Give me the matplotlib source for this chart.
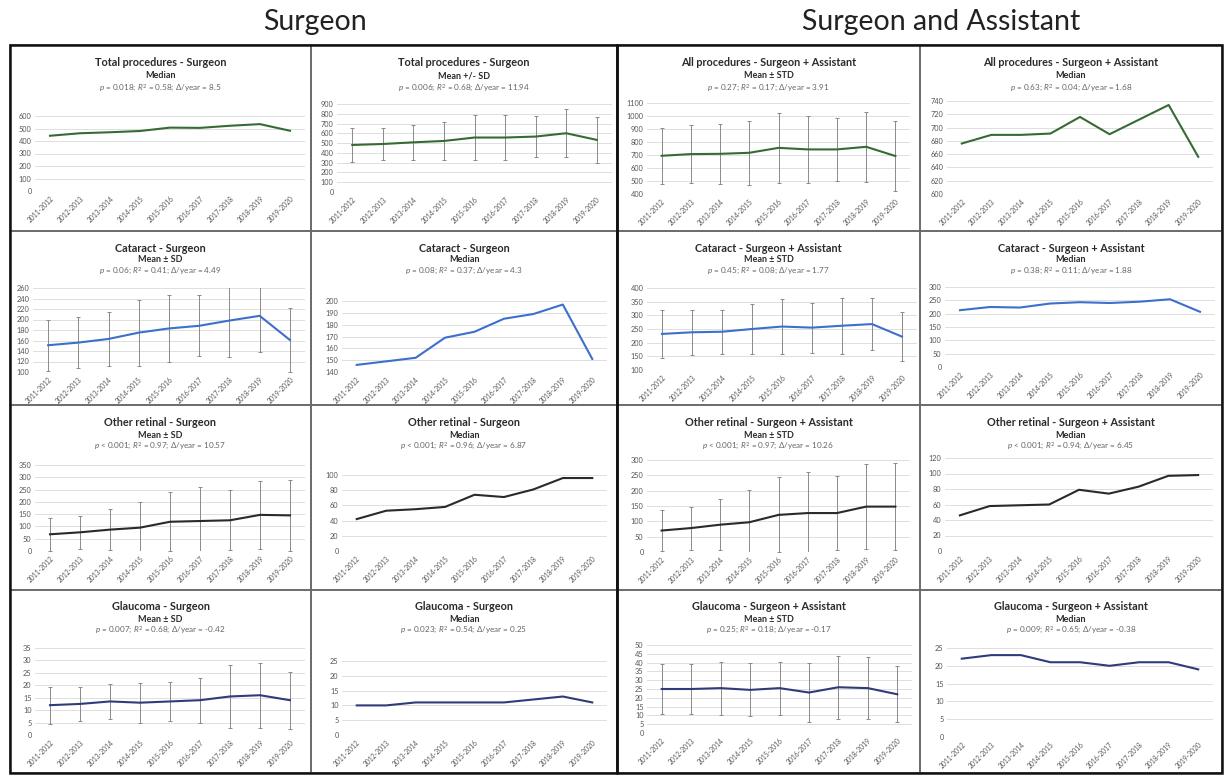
import numpy as np
import matplotlib
matplotlib.use("Agg")
import matplotlib.pyplot as plt
from matplotlib.patches import Rectangle

W, H = 1225, 775

seasons = ["2011-2012", "2012-2013", "2013-2014", "2014-2015", "2015-2016",
           "2016-2017", "2017-2018", "2018-2019", "2019-2020"]

# Total / all procedures
total_surg_median = [442, 462, 470, 480, 507, 505, 522, 535, 482]
total_surg_mean = [481, 491, 508, 522, 557, 557, 567, 601, 533]
total_surg_sd = [172, 163, 177, 197, 228, 228, 206, 247, 233]
all_sa_mean = [694, 707, 709, 717, 755, 743, 743, 763, 692]
all_sa_sd = [217, 222, 233, 246, 269, 255, 245, 269, 271]
all_sa_median = [676, 689, 689, 691, 716, 690, 712, 734, 656]

# Cataract
cat_surg_mean = [151, 156, 163, 175, 183, 188, 198, 207, 161]
cat_surg_sd = [49, 49, 51, 63, 64, 58, 69, 69, 61]
cat_surg_median = [146, 149, 152, 169, 174, 185, 189, 197, 151]
cat_sa_mean = [232, 238, 240, 250, 259, 255, 262, 268, 222]
cat_sa_sd = [88, 82, 80, 92, 99, 91, 102, 95, 90]
cat_sa_median = [213, 225, 223, 238, 243, 240, 245, 254, 207]

# Other retinal
ret_surg_mean = [68, 76, 87, 95, 119, 122, 125, 147, 145]
ret_surg_sd = [68, 66, 83, 103, 120, 140, 122, 138, 144]
ret_surg_median = [42, 53, 55, 58, 74, 71, 81, 96, 96]
ret_sa_mean = [70, 78, 89, 97, 121, 127, 127, 148, 148]
ret_sa_sd = [68, 70, 84, 106, 122, 135, 121, 138, 143]
ret_sa_median = [46, 58, 59, 60, 79, 74, 83, 97, 98]

# Glaucoma
gl_surg_mean = [12, 12.5, 13.5, 13, 13.5, 14, 15.5, 16, 14]
gl_surg_sd = [7.5, 7, 7, 8, 8, 9, 12.5, 13, 11.5]
gl_surg_median = [10, 10, 11, 11, 11, 11, 12, 13, 11]
gl_sa_mean = [25, 25, 25.5, 24.5, 25.5, 23, 26, 25.5, 22]
gl_sa_sd = [14, 14, 15, 15, 15, 17, 18, 17.5, 16]
gl_sa_median = [22, 23, 23, 21, 21, 20, 21, 21, 19]

titles = ["Total procedures - Surgeon", "Total procedures - Surgeon",
          "All procedures - Surgeon + Assistant", "All procedures - Surgeon + Assistant",
          "Cataract - Surgeon", "Cataract - Surgeon",
          "Cataract - Surgeon + Assistant", "Cataract - Surgeon + Assistant",
          "Other retinal - Surgeon", "Other retinal - Surgeon",
          "Other retinal - Surgeon + Assistant", "Other retinal - Surgeon + Assistant",
          "Glaucoma - Surgeon", "Glaucoma - Surgeon",
          "Glaucoma - Surgeon + Assistant", "Glaucoma - Surgeon + Assistant"]
subtitles = ["Median", "Mean +/- SD", "Mean \u00b1 STD", "Median",
             "Mean \u00b1 SD", "Median", "Mean \u00b1 STD", "Median",
             "Mean \u00b1 SD", "Median", "Mean \u00b1 STD", "Median",
             "Mean \u00b1 SD", "Median", "Mean \u00b1 STD", "Median"]
stats = [r"$p$ = 0.018; $R^2$ = 0.58; Δ/year = 8.5",
         r"$p$ = 0.006; $R^2$ = 0.68; Δ/year = 11.94",
         r"$p$ = 0.27; $R^2$ = 0.17; Δ/year = 3.91",
         r"$p$ = 0.63; $R^2$ = 0.04; Δ/year = 1.68",
         r"$p$ = 0.06; $R^2$ = 0.41; Δ/year = 4.49",
         r"$p$ = 0.08; $R^2$ = 0.37; Δ/year = 4.3",
         r"$p$ = 0.45; $R^2$ = 0.08; Δ/year = 1.77",
         r"$p$ = 0.38; $R^2$ = 0.11; Δ/year = 1.88",
         r"$p$ < 0.001; $R^2$ = 0.97; Δ/year = 10.57",
         r"$p$ < 0.001; $R^2$ = 0.96; Δ/year = 6.87",
         r"$p$ < 0.001; $R^2$ = 0.97; Δ/year = 10.26",
         r"$p$ < 0.001; $R^2$ = 0.94; Δ/year = 6.45",
         r"$p$ = 0.007; $R^2$ = 0.68; Δ/year = -0.42",
         r"$p$ = 0.023; $R^2$ = 0.54; Δ/year = 0.25",
         r"$p$ = 0.25; $R^2$ = 0.18; Δ/year = -0.17",
         r"$p$ = 0.009; $R^2$ = 0.65; Δ/year = -0.38"]

plt.rcParams["font.family"] = ["Lato", "DejaVu Sans"]
plt.rcParams["mathtext.fontset"] = "custom"
plt.rcParams["mathtext.it"] = "Lato:italic"
plt.rcParams["mathtext.rm"] = "Lato"

GREEN = "#366b34"
BLUE = "#3d6fcc"
DARK = "#2a2a2a"
NAVY = "#2f3c7a"

# (values, error, colour, ymin, ymax, step, axes box in px: left, right, top, bottom)
panels = [
    (total_surg_median, None, GREEN, 0, 600, 100, (35, 305, 116, 191)),
    (total_surg_mean, total_surg_sd, GREEN, 0, 900, 100, (337, 612, 104, 192)),
    (all_sa_mean, all_sa_sd, GREEN, 400, 1100, 100, (647, 910, 103, 194)),
    (all_sa_median, None, GREEN, 600, 740, 20, (947, 1213, 101, 194)),
    (cat_surg_mean, cat_surg_sd, BLUE, 100, 260, 20, (33, 305, 288, 372)),
    (cat_surg_median, None, BLUE, 140, 200, 10, (342, 607, 301, 372)),
    (cat_sa_mean, cat_sa_sd, BLUE, 100, 400, 50, (647, 917, 288, 370)),
    (cat_sa_median, None, BLUE, 0, 300, 50, (945, 1215, 287, 367)),
    (ret_surg_mean, ret_surg_sd, DARK, 0, 350, 50, (35, 305, 465, 551)),
    (ret_surg_median, None, DARK, 0, 100, 20, (342, 607, 475, 551)),
    (ret_sa_mean, ret_sa_sd, DARK, 0, 300, 50, (647, 910, 460, 552)),
    (ret_sa_median, None, DARK, 0, 120, 20, (945, 1213, 458, 551)),
    (gl_surg_mean, gl_surg_sd, NAVY, 0, 35, 5, (35, 305, 648, 735)),
    (gl_surg_median, None, NAVY, 0, 25, 5, (342, 607, 661, 735)),
    (gl_sa_mean, gl_sa_sd, NAVY, 0, 50, 5, (647, 912, 645, 733)),
    (gl_sa_median, None, NAVY, 0, 25, 5, (947, 1213, 648, 737)),
]

col_edges = [10, 311, 617, 920, 1222]
row_edges = [45, 231, 405, 590, 773]
text_rows = [(62, 76, 88), (248, 260, 271), (422, 435, 446), (607, 619, 630)]

fig = plt.figure(figsize=(W / 100, H / 100), dpi=100)


def fx(px):
    return px / W


def fy(py):
    return 1 - py / H


for i, (vals, err, color, ymin, ymax, step, box) in enumerate(panels):
    r, c = divmod(i, 4)
    left, right, top, bottom = box
    ax = fig.add_axes([fx(left), fy(bottom), (right - left) / W, (bottom - top) / H])
    x = np.arange(len(seasons))
    ax.set_xlim(-0.5, len(seasons) - 0.5)
    ax.set_ylim(ymin, ymax)
    ax.set_yticks(np.arange(ymin, ymax + step / 2, step))
    ax.grid(axis="y", color="#d9d9d9", lw=0.6)
    ax.set_axisbelow(True)
    for s in ax.spines.values():
        s.set_visible(False)
    ax.tick_params(length=0, colors="#555555", pad=2.5)
    ax.tick_params(axis="y", labelsize=5.3)
    ax.tick_params(axis="x", labelsize=4.9)
    ax.set_xticks(x)
    ax.set_xticklabels(seasons, rotation=45, ha="right", rotation_mode="anchor")
    if err is not None:
        ax.errorbar(x, vals, yerr=err, fmt="none", ecolor="#8a8a8a",
                    elinewidth=0.7, capsize=1.5, capthick=0.7)
    ax.plot(x, vals, color=color, lw=1.5, solid_joinstyle="round")

    # panel texts
    cx = (col_edges[c] + col_edges[c + 1]) / 2
    ty, sy, py = text_rows[r]
    fig.text(fx(cx), fy(ty), titles[i], ha="center", va="center",
             fontsize=7.8, fontweight="bold", color="#2b2b2b")
    fig.text(fx(cx), fy(sy), subtitles[i], ha="center", va="center",
             fontsize=6.5, fontweight="bold", color="#2b2b2b")
    fig.text(fx(cx), fy(py), stats[i], ha="center", va="center",
             fontsize=5.9, color="#666666")

    # panel frame
    fig.patches.append(Rectangle((fx(col_edges[c]), fy(row_edges[r + 1])),
                                 (col_edges[c + 1] - col_edges[c]) / W,
                                 (row_edges[r + 1] - row_edges[r]) / H,
                                 transform=fig.transFigure, fill=False,
                                 ec="#6a6a6a", lw=1.2))

# outer frames of the two halves
for x0, x1 in [(col_edges[0], col_edges[2]), (col_edges[2], col_edges[4])]:
    fig.patches.append(Rectangle((fx(x0), fy(row_edges[-1])), (x1 - x0) / W,
                                 (row_edges[-1] - row_edges[0]) / H,
                                 transform=fig.transFigure, fill=False,
                                 ec="#111111", lw=1.8))

fig.text(fx(315), fy(22), "Surgeon", ha="center", va="center", fontsize=20.5, color="#222222")
fig.text(fx(941), fy(22), "Surgeon and Assistant", ha="center", va="center",
         fontsize=20.5, color="#222222")

fig.savefig("out.png", dpi=100)
